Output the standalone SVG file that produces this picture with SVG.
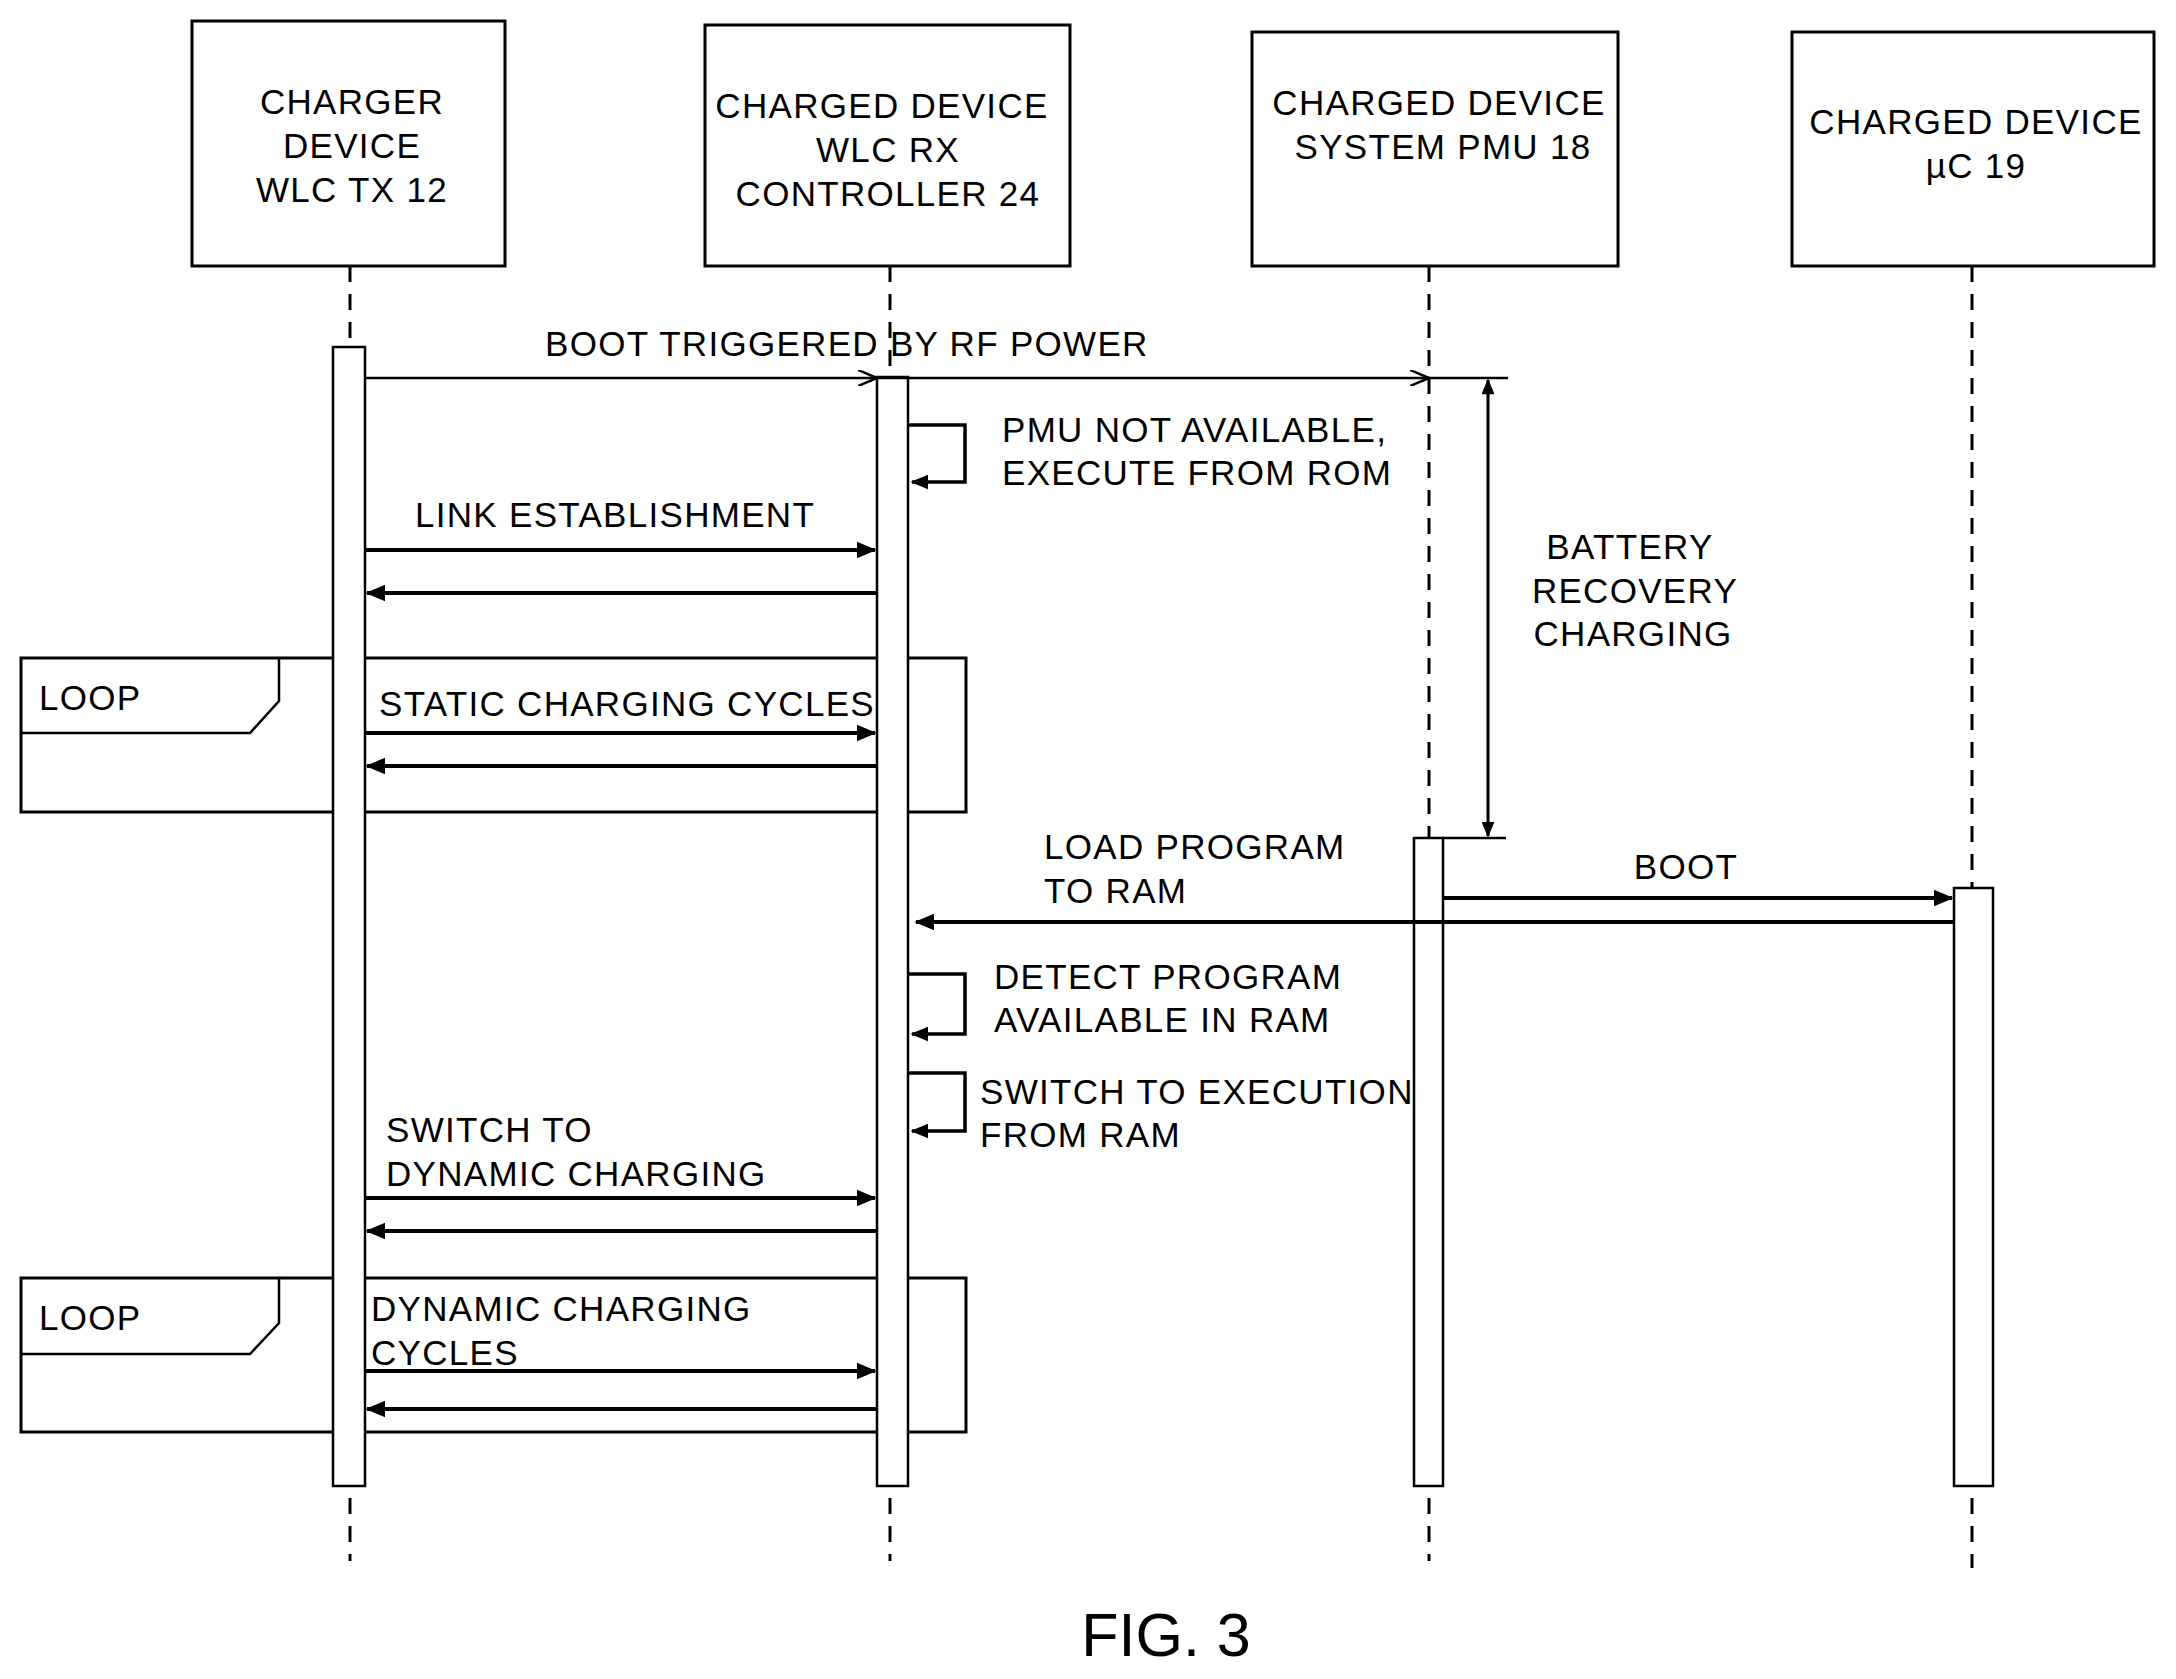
<svg xmlns="http://www.w3.org/2000/svg" width="2176" height="1679" viewBox="0 0 2176 1679">
<style>
text{font-family:"Liberation Sans",Arial,sans-serif;font-size:35px;letter-spacing:1.3px;fill:#000}
.box{fill:#fff;stroke:#000;stroke-width:3}
.life{stroke:#000;stroke-width:3;stroke-dasharray:16 12;fill:none}
.bar{fill:#fff;stroke:#000;stroke-width:2.5}
.msg{stroke:#000;stroke-width:4;fill:none;marker-end:url(#fa)}
.thin{stroke:#000;stroke-width:2.5;fill:none}
.c{text-anchor:middle}
</style>
<defs>
<marker id="fa" viewBox="0 0 12 10" refX="11" refY="5" markerWidth="5" markerHeight="5" orient="auto"><path d="M0,0L12,5L0,10z" fill="#000"/></marker>
<marker id="fb" viewBox="0 0 12 10" refX="11" refY="5" markerWidth="16" markerHeight="13" orient="auto-start-reverse" markerUnits="userSpaceOnUse"><path d="M0,0L12,5L0,10z" fill="#000"/></marker>
<marker id="oa2" viewBox="0 0 20 16" refX="19" refY="8" markerWidth="20" markerHeight="16" orient="auto" markerUnits="userSpaceOnUse"><path d="M0,0L19,8L0,16" fill="none" stroke="#000" stroke-width="2.5"/></marker>
</defs>
<rect width="2176" height="1679" fill="#fff"/>
<g id="lifelines">
<line class="life" x1="350" y1="266" x2="350" y2="1561"/>
<line class="life" x1="890" y1="266" x2="890" y2="1561"/>
<line class="life" x1="1429" y1="266" x2="1429" y2="1561"/>
<line class="life" x1="1972" y1="266" x2="1972" y2="1568"/>
</g>
<g id="tx"><rect class="box" x="192" y="21" width="313" height="245"/>
<text class="c" x="352" y="114">CHARGER</text><text class="c" x="352" y="158">DEVICE</text><text class="c" x="352" y="202">WLC TX 12</text></g>
<g id="rx"><rect class="box" x="705" y="25" width="365" height="241"/>
<text class="c" x="882" y="118">CHARGED DEVICE</text><text class="c" x="888" y="162">WLC RX</text><text class="c" x="888" y="206">CONTROLLER 24</text></g>
<g id="pmu"><rect class="box" x="1252" y="32" width="366" height="234"/>
<text class="c" x="1439" y="115">CHARGED DEVICE</text><text class="c" x="1443" y="159">SYSTEM PMU 18</text></g>
<g id="uc"><rect class="box" x="1792" y="32" width="362" height="234"/>
<text class="c" x="1976" y="134">CHARGED DEVICE</text><text class="c" x="1976" y="178">µC 19</text></g>
<g id="loops">
<rect class="box" x="21" y="658" width="945" height="154"/>
<path class="thin" d="M21,733H250L279,701V658"/>
<text x="39" y="710">LOOP</text>
<rect class="box" x="21" y="1278" width="945" height="154"/>
<path class="thin" d="M21,1354H250L279,1323V1278"/>
<text x="39" y="1330">LOOP</text>
</g>
<g id="bars">
<rect class="bar" x="333" y="347" width="32" height="1139"/>
<rect class="bar" x="877" y="377" width="31" height="1109"/>
<rect class="bar" x="1414" y="838" width="29" height="648"/>
<rect class="bar" x="1954" y="888" width="39" height="598"/>
</g>
<g id="connectors">
<line class="thin" x1="365" y1="378" x2="877" y2="378" marker-end="url(#oa2)"/>
<line class="thin" x1="877" y1="378" x2="1429" y2="378" marker-end="url(#oa2)"/>
<text x="545" y="356">BOOT TRIGGERED BY RF POWER</text>
<line class="thin" x1="1429" y1="378" x2="1508" y2="378"/>
<line class="thin" x1="1443" y1="838" x2="1506" y2="838"/>
<line x1="1488" y1="380" x2="1488" y2="836" stroke="#000" stroke-width="3" marker-start="url(#fb)" marker-end="url(#fb)"/>
<text class="c" x="1630" y="559">BATTERY</text><text class="c" x="1635" y="603">RECOVERY</text><text class="c" x="1633" y="646">CHARGING</text>
<path class="msg" d="M908,425H965V482H912" style="stroke-width:3.5"/>
<text x="1002" y="442">PMU NOT AVAILABLE,</text><text x="1002" y="485">EXECUTE FROM ROM</text>
<text x="415" y="527">LINK ESTABLISHMENT</text>
<line class="msg" x1="365" y1="550" x2="875" y2="550"/>
<line class="msg" x1="877" y1="593" x2="367" y2="593"/>
<text x="379" y="716">STATIC CHARGING CYCLES</text>
<line class="msg" x1="365" y1="733" x2="875" y2="733"/>
<line class="msg" x1="877" y1="766" x2="367" y2="766"/>
<text x="1044" y="859">LOAD PROGRAM</text><text x="1044" y="903">TO RAM</text>
<line class="msg" x1="1954" y1="922" x2="916" y2="922"/>
<text class="c" x="1686" y="879">BOOT</text>
<line class="msg" x1="1443" y1="898" x2="1952" y2="898"/>
<path class="msg" d="M908,974H965V1034H912" style="stroke-width:3.5"/>
<text x="994" y="989">DETECT PROGRAM</text><text x="994" y="1032">AVAILABLE IN RAM</text>
<path class="msg" d="M908,1073H965V1131H912" style="stroke-width:3.5"/>
<text x="980" y="1104">SWITCH TO EXECUTION</text><text x="980" y="1147">FROM RAM</text>
<text x="386" y="1142">SWITCH TO</text><text x="386" y="1186">DYNAMIC CHARGING</text>
<line class="msg" x1="365" y1="1198" x2="875" y2="1198"/>
<line class="msg" x1="877" y1="1231" x2="367" y2="1231"/>
<text x="371" y="1321">DYNAMIC CHARGING</text><text x="371" y="1365">CYCLES</text>
<line class="msg" x1="365" y1="1371" x2="875" y2="1371"/>
<line class="msg" x1="877" y1="1409" x2="367" y2="1409"/>
</g>
<text class="c" x="1166" y="1656" style="font-size:61px;letter-spacing:0">FIG. 3</text>
</svg>
